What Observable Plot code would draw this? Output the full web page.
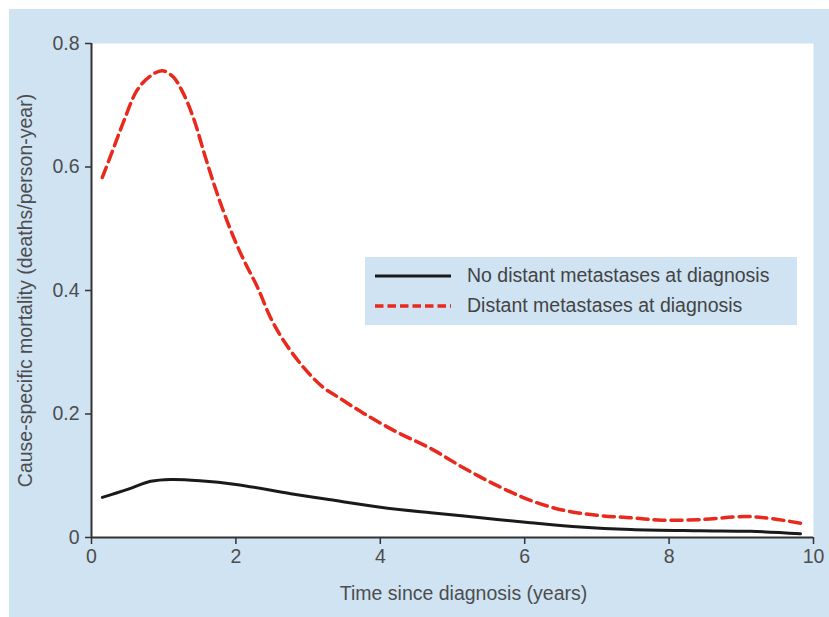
<!DOCTYPE html>
<html><head><meta charset="utf-8">
<script src="https://cdn.jsdelivr.net/npm/d3@7"></script>
<script src="https://cdn.jsdelivr.net/npm/@observablehq/plot@0.6"></script>
<style>
body{margin:0;background:#fff;font-family:"Liberation Sans",Arial,sans-serif;}
#wrap{position:absolute;left:9px;top:9px;width:820px;height:608px;background:#cfe3f3;}
#legend{position:absolute;left:356px;top:248px;width:432px;height:68px;background:#cfe3f3;font-size:19.5px;color:#444;}
.row{position:absolute;left:10px;display:flex;align-items:center;}
.row span{margin-left:16px;}
</style></head><body>
<div id="wrap"><div id="chart"></div>
<div id="legend">
 <div class="row" style="top:7px"><svg width="76" height="20"><line x1="0" x2="76" y1="10" y2="10" stroke="#1a1a1a" stroke-width="3"/></svg><span>No distant metastases at diagnosis</span></div>
 <div class="row" style="top:37px"><svg width="76" height="20"><line x1="0" x2="76" y1="10" y2="10" stroke="#e8291c" stroke-width="3.5" stroke-dasharray="8.5,4"/></svg><span>Distant metastases at diagnosis</span></div>
</div></div>
<script>
const redX = [0.15,0.31,0.45,0.63,0.8,0.98,1.13,1.26,1.41,1.58,1.74,1.93,2.11,2.30,2.48,2.66,2.94,3.21,3.42,3.77,4.24,4.70,5.15,5.62,6.08,6.54,7.0,7.47,7.9,8.43,9.06,9.4,9.82];
const redY = [0.583,0.632,0.675,0.724,0.746,0.756,0.746,0.722,0.680,0.615,0.557,0.497,0.449,0.405,0.356,0.319,0.275,0.243,0.227,0.201,0.170,0.144,0.113,0.084,0.060,0.044,0.036,0.032,0.028,0.029,0.034,0.031,0.023];
const blackX = [0.15,0.5,0.82,1.1,1.5,2.0,2.76,3.31,4.0,4.7,5.39,6.08,6.77,7.47,8.43,9.13,9.82];
const blackY = [0.065,0.078,0.091,0.094,0.092,0.086,0.071,0.061,0.049,0.040,0.032,0.024,0.017,0.013,0.011,0.010,0.006];
const xTicks = [0,2,4,6,8,10];
const yTicks = [0,0.2,0.4,0.6,0.8];
const xLabel = "Time since diagnosis (years)";
const yLabel = "Cause-specific mortality (deaths/person-year)";
const red = redX.map((x,i)=>({x,y:redY[i]}));
const black = blackX.map((x,i)=>({x,y:blackY[i]}));
const FS = 19.5;
const plot = Plot.plot({
  width:820, height:608,
  marginLeft:82, marginTop:34, marginRight:16, marginBottom:80,
  style:{fontSize:"19.5px",fontFamily:"Liberation Sans, Arial, sans-serif",color:"#4d4d4d",background:"transparent",overflow:"visible"},
  x:{domain:[0,10]},
  y:{domain:[0,0.8]},
  marks:[
    Plot.frame({fill:"white",stroke:null}),
    Plot.axisX(xTicks,{tickSize:7,tickPadding:5,fontSize:FS,stroke:"#333",strokeWidth:1.5,fill:"#4d4d4d",label:null,tickFormat:d=>String(d)}),
    Plot.text([xLabel],{frameAnchor:"bottom",text:d=>d,dy:62,dx:11,lineAnchor:"bottom",fontSize:FS,fill:"#4d4d4d"}),
    Plot.axisY(yTicks,{tickSize:6,tickPadding:6,fontSize:FS,stroke:"#333",strokeWidth:1.5,fill:"#4d4d4d",label:yLabel,labelAnchor:"center",labelArrow:"none",labelOffset:73,tickFormat:d=>d===0?"0":String(d)}),
    Plot.ruleX([0],{stroke:"#333",strokeWidth:2}),
    Plot.ruleY([0],{stroke:"#333",strokeWidth:2}),
    Plot.line(black,{x:"x",y:"y",stroke:"#1a1a1a",strokeWidth:3,curve:"catmull-rom"}),
    Plot.line(red,{x:"x",y:"y",stroke:"#e8291c",strokeWidth:3.5,strokeDasharray:"11,6",curve:"catmull-rom"})
  ]
});
document.getElementById("chart").appendChild(plot);
</script></body></html>
